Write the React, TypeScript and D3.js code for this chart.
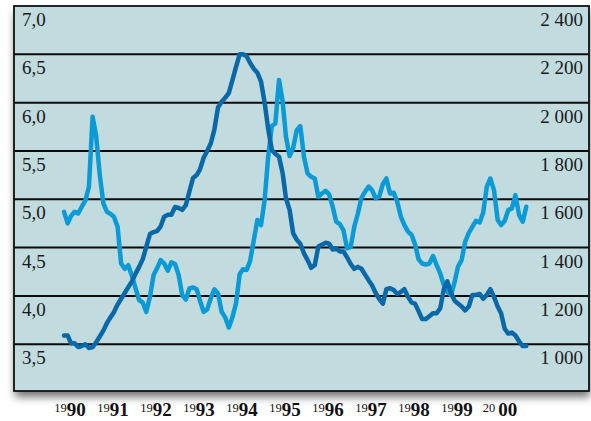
import { useEffect, useRef } from "react";
import * as d3 from "d3";

// monthly readings, Jan 1990 onwards
const startYear = 1990;

// dark blue line, left scale
const yieldValues = [
  3.59, 3.59, 3.51, 3.51, 3.47, 3.48, 3.5, 3.46, 3.47, 3.52, 3.58, 3.64,
  3.72, 3.78, 3.83, 3.91, 3.97, 4.03, 4.09, 4.15, 4.23, 4.3, 4.38, 4.51,
  4.64, 4.66, 4.67, 4.72, 4.82, 4.84, 4.84, 4.92, 4.91, 4.89, 4.94, 5.08,
  5.22, 5.25, 5.31, 5.43, 5.5, 5.58, 5.72, 5.95, 6.01, 6.05, 6.1, 6.23,
  6.37, 6.5, 6.5, 6.48, 6.41, 6.35, 6.31, 6.22, 6.0, 5.73, 5.51, 5.47,
  5.44, 5.27, 5.01, 4.89, 4.65, 4.58, 4.54, 4.44, 4.37, 4.29, 4.32, 4.51,
  4.53, 4.55, 4.54, 4.48, 4.49, 4.46, 4.46, 4.4, 4.33, 4.28, 4.3, 4.28,
  4.22, 4.16, 4.11, 4.03, 3.97, 3.92, 4.07, 4.08, 4.06, 4.02, 4.04, 4.07,
  3.99, 3.93, 3.92, 3.84, 3.76, 3.76, 3.79, 3.82, 3.82, 3.87, 4.07, 4.15,
  4.03, 3.95, 3.92, 3.89, 3.85, 3.89, 4.01, 4.01, 4.02, 3.97, 4.01, 4.07,
  3.99, 3.89, 3.82, 3.66, 3.61, 3.62, 3.59, 3.53, 3.48, 3.48,
];

// light blue line, right scale
const indexValues = [
  1548, 1500, 1530, 1548, 1541, 1569, 1594, 1652, 1942, 1862, 1700, 1583,
  1548, 1539, 1528, 1486, 1334, 1312, 1327, 1282, 1231, 1183, 1172, 1134,
  1196, 1286, 1314, 1348, 1334, 1304, 1339, 1332, 1286, 1203, 1185, 1231,
  1235, 1227, 1180, 1134, 1144, 1190, 1227, 1210, 1134, 1111, 1069, 1111,
  1169, 1290, 1310, 1307, 1345, 1431, 1514, 1493, 1597, 1776, 1903, 1914,
  2094, 2004, 1859, 1779, 1811, 1887, 1903, 1776, 1707, 1693, 1686, 1610,
  1624, 1635, 1621, 1569, 1507, 1497, 1472, 1397, 1403, 1486, 1541, 1606,
  1631, 1652, 1638, 1604, 1611, 1663, 1686, 1624, 1627, 1590, 1528, 1493,
  1466, 1452, 1414, 1351, 1334, 1330, 1334, 1365, 1327, 1293, 1245, 1217,
  1203, 1258, 1321, 1348, 1424, 1461, 1486, 1511, 1504, 1544, 1652, 1686,
  1638, 1514, 1493, 1511, 1555, 1562, 1617, 1535, 1507, 1569,
];

const leftTicks = [7.0, 6.5, 6.0, 5.5, 5.0, 4.5, 4.0, 3.5];
const rightTicks = [2400, 2200, 2000, 1800, 1600, 1400, 1200, 1000];
const yearLabels = [
  ["19", "90"], ["19", "91"], ["19", "92"], ["19", "93"], ["19", "94"],
  ["19", "95"], ["19", "96"], ["19", "97"], ["19", "98"], ["19", "99"],
  ["20", "00"],
];

const months = yieldValues.map((_, i) => new Date(startYear, i, 1));

export default function App() {
  const svgRef = useRef<SVGSVGElement | null>(null);

  useEffect(() => {
    if (!svgRef.current) return;
    const svg = d3.select(svgRef.current);
    svg.selectAll("*").remove();

    const width = 591;
    const height = 421;
    const box = { left: 14, top: 6, right: 589, bottom: 391 };

    svg.attr("width", width).attr("height", height);

    const defs = svg.append("defs");
    const shadow = defs.append("filter").attr("id", "shadow")
      .attr("x", "-5%").attr("y", "-5%").attr("width", "115%").attr("height", "115%");
    shadow.append("feDropShadow")
      .attr("dx", 1).attr("dy", 6).attr("stdDeviation", 4)
      .attr("flood-color", "#000").attr("flood-opacity", 0.55);

    const x = d3.scaleTime()
      .domain([new Date(1990, 0, 1), new Date(2000, 0, 1)])
      .range([64, 494]);
    const yLeft = d3.scaleLinear().domain([3, 7]).range([392.5, 6]);
    const yRight = d3.scaleLinear().domain([800, 2400]).range([392.5, 6]);

    svg.append("rect")
      .attr("x", box.left).attr("y", box.top)
      .attr("width", box.right - box.left).attr("height", box.bottom - box.top)
      .attr("fill", "#c1dbdf")
      .attr("filter", "url(#shadow)");

    // gridlines
    svg.append("g").selectAll("line")
      .data(leftTicks.slice(1))
      .enter().append("line")
      .attr("x1", box.left).attr("x2", box.right)
      .attr("y1", (d) => yLeft(d)).attr("y2", (d) => yLeft(d))
      .attr("stroke", "#0b0b0b").attr("stroke-width", 2);

    const fmtLeft = (v: number) => v.toFixed(1).replace(".", ",");
    const fmtRight = (v: number) => d3.format(",")(v).replace(",", " ");

    svg.append("g").selectAll("text")
      .data(leftTicks)
      .enter().append("text")
      .attr("x", 22).attr("y", (d) => yLeft(d) + 20)
      .attr("font-family", "Liberation Serif, serif").attr("font-size", 19)
      .attr("fill", "#1a1a1a")
      .text(fmtLeft);

    svg.append("g").selectAll("text")
      .data(rightTicks)
      .enter().append("text")
      .attr("x", 583).attr("y", (d) => yRight(d) + 20)
      .attr("text-anchor", "end")
      .attr("font-family", "Liberation Serif, serif").attr("font-size", 19)
      .attr("fill", "#1a1a1a")
      .text(fmtRight);

    const lightLine = d3.line<number>()
      .x((_, i) => x(months[i]))
      .y((d) => yRight(d))
      .curve(d3.curveLinear);
    const darkLine = d3.line<number>()
      .x((_, i) => x(months[i]))
      .y((d) => yLeft(d))
      .curve(d3.curveLinear);

    svg.append("path")
      .datum(indexValues)
      .attr("d", lightLine)
      .attr("fill", "none")
      .attr("stroke", "#0a9ad6")
      .attr("stroke-width", 4.5)
      .attr("stroke-linejoin", "round")
      .attr("stroke-linecap", "round");

    svg.append("path")
      .datum(yieldValues)
      .attr("d", darkLine)
      .attr("fill", "none")
      .attr("stroke", "#0868a8")
      .attr("stroke-width", 4.5)
      .attr("stroke-linejoin", "round")
      .attr("stroke-linecap", "round");

    svg.append("rect")
      .attr("x", box.left).attr("y", box.top)
      .attr("width", box.right - box.left).attr("height", box.bottom - box.top)
      .attr("fill", "none")
      .attr("stroke", "#111").attr("stroke-width", 1.8);

    // year labels: small century, bold decade
    const labels = svg.append("g").selectAll("text")
      .data(yearLabels)
      .enter().append("text")
      .attr("x", (_, i) => x(new Date(startYear + i, 0, 1)) + 6)
      .attr("y", 416)
      .attr("text-anchor", "middle")
      .attr("font-family", "Liberation Serif, serif")
      .attr("fill", "#111");
    labels.append("tspan")
      .attr("font-size", 12.5)
      .attr("dy", -4)
      .text((d) => (d[0] === "20" ? d[0] + " " : d[0]));
    labels.append("tspan")
      .attr("font-size", 19)
      .attr("font-weight", "bold")
      .attr("dy", 4)
      .text((d) => d[1]);
  }, []);

  return (
    <div style={{ position: "absolute", left: 0, top: 0 }}>
      <svg ref={svgRef} style={{ display: "block" }} />
    </div>
  );
}
